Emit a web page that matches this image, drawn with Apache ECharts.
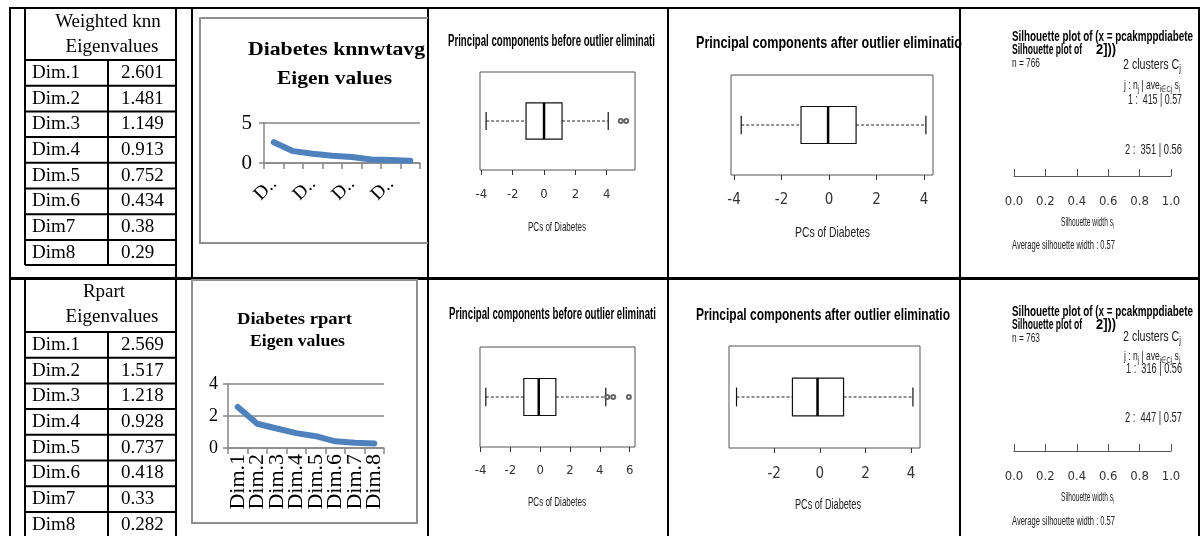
<!DOCTYPE html>
<html><head><meta charset="utf-8">
<script src="https://cdn.jsdelivr.net/npm/echarts@6/dist/echarts.min.js"></script>
<style>html,body{margin:0;padding:0;background:#fff}#c{width:1202px;height:536px}</style>
</head><body><div id="c"></div>
<script>
// ---------------- data ----------------
const dimCats = ['Dim.1','Dim.2','Dim.3','Dim.4','Dim.5','Dim.6','Dim.7','Dim.8'];
const tableRowLabels = ['Dim.1','Dim.2','Dim.3','Dim.4','Dim.5','Dim.6','Dim7','Dim8'];
const knnEigen = [2.601,1.481,1.149,0.913,0.752,0.434,0.38,0.29];
const rpartEigen = [2.569,1.517,1.218,0.928,0.737,0.418,0.33,0.282];
const knnTableTitle = ['Weighted knn','Eigenvalues'];
const rpartTableTitle = ['Rpart','Eigenvalues'];
const knnChartTitle = ['Diabetes knnwtavg','Eigen values'];
const rpartChartTitle = ['Diabetes rpart','Eigen values'];
// boxplot five-number summaries [min, Q1, median, Q3, max]
const boxBeforeKnn = [-3.7,-1.15,0,1.15,4.1];
const outBeforeKnn = [4.9,5.25];
const boxAfterKnn = [-3.7,-1.18,-0.04,1.14,4.08];
const boxBeforeRpart = [-3.65,-1.1,-0.1,1.05,4.4];
const outBeforeRpart = [4.5,4.9,5.95];
const boxAfterRpart = [-3.65,-1.2,-0.1,1.04,4.08];
const ticksBeforeKnn = [-4,-2,0,2,4];
const ticksAfterKnn = [-4,-2,0,2,4];
const ticksBeforeRpart = [-4,-2,0,2,4,6];
const ticksAfterRpart = [-2,0,2,4];
const silN = [766, 763];
const silSizes = [[415,351],[316,447]];
const silAvgs = [[0.57,0.56],[0.56,0.57]];
const silOverall = [0.57, 0.57];
const boxTitleBefore = 'Principal components before outlier eliminati';
const boxTitleAfter = 'Principal components after outlier eliminatio';
const boxXName = 'PCs of Diabetes';

// ---------------- helpers ----------------
const mctx = document.createElement('canvas').getContext('2d');
function mw(t, font){ mctx.font = font; return mctx.measureText(t).width; }
const G = [];
const SANS = '"Liberation Sans", Arial, sans-serif';
const SERIF = '"Liberation Serif", "Times New Roman", serif';
function ln(x1,y1,x2,y2,w,c){ G.push({type:'line', z:100, shape:{x1,y1,x2,y2}, style:{stroke:c||'#000', lineWidth:w||2}}); }
function tx(t, x, y, font, o){
  o = o || {};
  let s = o.scale || 1;
  if (o.target) s = o.target / mw(t, font);
  G.push({type:'text', x, y, scaleX:s, z:50, style:{text:t, font, fill:o.fill||'#000',
    textAlign:o.align||'left', align:o.align||'left', textVerticalAlign:'middle', verticalAlign:'middle'}});
  return s;
}
function pieces(arr, x, y, size, target, fill){
  const fb = size+'px '+SANS, fs = Math.round(size*0.72)+'px '+SANS;
  let tot = 0; arr.forEach(p => tot += mw(p[0], p[1]?fs:fb));
  const s = target / tot; let cx = x;
  arr.forEach(p => { const f = p[1]?fs:fb;
    G.push({type:'text', x:cx, y:y+(p[1]?size*0.32:0), scaleX:s, z:50, style:{text:p[0], font:f, fill:fill||'#222',
      textAlign:'left', align:'left', textVerticalAlign:'middle', verticalAlign:'middle'}});
    cx += mw(p[0], f)*s; });
}

// ---------------- table borders ----------------
ln(10,8,1200,8,2); ln(10,278.5,1200,278.5,3);
ln(10,7,10,536,2); ln(1199,7,1199,536,2);
ln(176,8,176,536,2); ln(192,8,192,278,2);
ln(428,8,428,536,2); ln(668,8,668,536,2); ln(960,8,960,536,2);
// inner table (top)
ln(25,8,25,265,2); ln(25,265,176,265,2); ln(108,60,108,265,2);
for (let i=0;i<8;i++) ln(25,60+i*25.7,176,60+i*25.7,2);
// inner table (bottom)
ln(25,278,25,536,2); ln(108,332,108,536,2);
for (let i=0;i<8;i++) ln(25,332+i*25.7,176,332+i*25.7,2);

const TF = '19px '+SERIF;
tx(knnTableTitle[0],108,22,TF,{align:'center'}); tx(knnTableTitle[1],112,47,TF,{align:'center'});
tx(rpartTableTitle[0],104,292,TF,{align:'center'}); tx(rpartTableTitle[1],112,317,TF,{align:'center'});
tableRowLabels.forEach((d,i) => {
  const y1 = 60+i*25.7+13, y2 = 332+i*25.7+13;
  tx(d,32,y1,TF); tx(String(knnEigen[i]),121,y1,TF);
  tx(d,32,y2,TF); tx(String(rpartEigen[i]),121,y2,TF);
});

// ---------------- excel chart frames & titles ----------------
const GR = '#8e8e8e';
ln(200,18,428,18,2,GR); ln(200,17,200,244,2,GR); ln(200,243,428,243,2,GR);
ln(192,280,417,280,2,GR); ln(192,279,192,524,2,GR); ln(192,523,417,523,2,GR); ln(417,279,417,524,2,GR);
tx(knnChartTitle[0],248,50,'bold 19px '+SERIF,{target:177});
tx(knnChartTitle[1],277,79,'bold 19px '+SERIF,{target:115});
tx(rpartChartTitle[0],237,320,'bold 17px '+SERIF,{target:115});
tx(rpartChartTitle[1],250,342,'bold 17px '+SERIF,{target:95});

// ---------------- R box plot texts ----------------
const RC = '#222';
tx(boxTitleBefore,448,42,'bold 16px '+SANS,{target:207});
tx(boxTitleAfter,696,43,'bold 17px '+SANS,{target:266});
tx(boxTitleBefore,449,315,'bold 16px '+SANS,{target:207});
tx(boxTitleAfter,696,315,'bold 17px '+SANS,{target:254});
tx(boxXName,528,227,'13px '+SANS,{target:58,fill:RC});
tx(boxXName,795,233,'15px '+SANS,{target:75,fill:RC});
tx(boxXName,528,502,'13px '+SANS,{target:58,fill:RC});
tx(boxXName,795,505,'14px '+SANS,{target:66,fill:RC});

// ---------------- silhouette texts ----------------
[0,1].forEach(k => {
  const yy = k===0 ? {t1:37,t2:50,n:63,cl:65,hd:85,c1:100,c2:150,sw:222,av:245}
                   : {t1:312,t2:325,n:338,cl:337,hd:356,c1:369,c2:418,sw:497,av:521};
  tx('Silhouette plot of (x = pcakmppdiabete',1012,yy.t1,'bold 15px '+SANS,{target:181});
  tx('Silhouette plot of',1012,yy.t2,'bold 15px '+SANS,{target:70});
  tx('2]))',1096,yy.t2,'bold 15px '+SANS,{target:20});
  tx('n = '+silN[k],1012,yy.n,'13px '+SANS,{target:28,fill:RC});
  pieces([['2 clusters C',0],['j',1]],1123,yy.cl,14,58);
  pieces([['j : n',0],['j',1],[' | ave',0],['i\u2208Cj',1],[' s',0],['i',1]],1124,yy.hd,13,56);
  tx('1 :  '+silSizes[k][0]+' | '+silAvgs[k][0].toFixed(2),k===0?1128:1126,yy.c1,'14px '+SANS,{target:k===0?54:56,fill:RC});
  tx('2 :  '+silSizes[k][1]+' | '+silAvgs[k][1].toFixed(2),1125,yy.c2,'14px '+SANS,{target:57,fill:RC});
  pieces([['Silhouette width s',0],['i',1]],1061,yy.sw,13,53);
  tx('Average silhouette width : '+silOverall[k].toFixed(2),1012,yy.av,'13px '+SANS,{target:103,fill:RC});
});

// ---------------- echarts option ----------------
const NARROW = '"Liberation Sans Narrow","DejaVu Sans Condensed","Liberation Sans",sans-serif';
function excelX(gi, rot, interval, size, margin, trunc){
  const lab = {interval, rotate:rot, margin, fontFamily:'Liberation Serif', fontSize:size, color:'#000'};
  if (trunc){ lab.formatter = v => v.charAt(0) + '..'; }
  return {gridIndex:gi, type:'category', data:dimCats, boundaryGap:true,
    axisLine:{show:true, lineStyle:{color:'#868686', width:1.5}},
    axisTick:{show:true, interval:0, length:6, lineStyle:{color:'#868686', width:1.5}},
    axisLabel:lab, splitLine:{show:false}};
}
function excelY(gi, max, interval, size, margin){
  return {gridIndex:gi, type:'value', min:0, max, interval,
    axisLine:{show:true, lineStyle:{color:'#868686', width:1.5}},
    axisTick:{show:true, length:5, lineStyle:{color:'#868686', width:1.5}},
    splitLine:{show:true, lineStyle:{color:'#868686', width:1.5}},
    axisLabel:{fontFamily:'Liberation Serif', fontSize:size, color:'#000', margin}};
}
function boxX(gi, min, max, ticks, size, margin){
  return {gridIndex:gi, type:'value', min, max,
    axisLine:{show:false}, splitLine:{show:false},
    axisTick:{show:true, customValues:ticks, length:5, lineStyle:{color:'#333'}},
    axisLabel:{customValues:ticks, margin, fontSize:size, fontFamily:NARROW, color:'#333'}};
}
function boxY(gi){ return {gridIndex:gi, type:'value', min:0.46, max:1.54, show:false}; }
function silX(gi){
  return {gridIndex:gi, type:'value', min:0, max:1, interval:0.2,
    axisLine:{show:true, lineStyle:{color:'#555'}}, splitLine:{show:false},
    axisTick:{show:true, inside:true, length:7, lineStyle:{color:'#555'}},
    axisLabel:{formatter:v=>v.toFixed(1), margin:19, fontSize:13, fontFamily:NARROW, color:'#333'}};
}
function renderBox(params, api){
  const v = [0,1,2,3,4].map(i => api.value(i)); const yc = api.value(5);
  const h = 0.2, cap = 0.1;
  const p = (x,y) => api.coord([x,y]);
  const a = p(v[1], yc+h), b = p(v[3], yc-h);
  const m1 = p(v[2], yc+h), m2 = p(v[2], yc-h);
  const w0 = p(v[0], yc), w1 = p(v[1], yc), w2 = p(v[3], yc), w3 = p(v[4], yc);
  const c0a = p(v[0], yc+cap), c0b = p(v[0], yc-cap), c4a = p(v[4], yc+cap), c4b = p(v[4], yc-cap);
  const solid = {stroke:'#111', lineWidth:1.2, fill:null};
  const dash = {stroke:'#222', lineWidth:1, lineDash:[3,2], fill:null};
  return {type:'group', children:[
    {type:'line', shape:{x1:w0[0],y1:w0[1],x2:w1[0],y2:w1[1]}, style:dash},
    {type:'line', shape:{x1:w2[0],y1:w2[1],x2:w3[0],y2:w3[1]}, style:dash},
    {type:'line', shape:{x1:c0a[0],y1:c0a[1],x2:c0b[0],y2:c0b[1]}, style:solid},
    {type:'line', shape:{x1:c4a[0],y1:c4a[1],x2:c4b[0],y2:c4b[1]}, style:solid},
    {type:'rect', shape:{x:a[0], y:a[1], width:b[0]-a[0], height:b[1]-a[1]}, style:{fill:'#fff', stroke:'#111', lineWidth:1.2}},
    {type:'line', shape:{x1:m1[0],y1:m1[1],x2:m2[0],y2:m2[1]}, style:{stroke:'#000', lineWidth:2.5}}
  ]};
}
const RB = {show:true, borderColor:'#555', borderWidth:1, backgroundColor:'transparent'};
const option = {
  backgroundColor:'#fff', animation:false,
  grid:[
    {left:264, top:123, width:156, height:40, outerBoundsMode:'none'},
    {left:228, top:384, width:156, height:64, outerBoundsMode:'none'},
    Object.assign({left:480, top:72, width:155, height:98, outerBoundsMode:'none'}, RB),
    Object.assign({left:731, top:75, width:202, height:100, outerBoundsMode:'none'}, RB),
    Object.assign({left:480, top:347, width:155, height:100, outerBoundsMode:'none'}, RB),
    Object.assign({left:729, top:346, width:191, height:102, outerBoundsMode:'none'}, RB),
    {left:1014, top:100, width:157, height:76, outerBoundsMode:'none'},
    {left:1014, top:375, width:157, height:76, outerBoundsMode:'none'}
  ],
  xAxis:[
    excelX(0,45,1,19,18,true),
    excelX(1,90,0,22,6,false),
    boxX(2,-4.09,5.81,ticksBeforeKnn,13,18),
    boxX(3,-4.13,4.38,ticksAfterKnn,15,18),
    boxX(4,-4.04,6.36,ticksBeforeRpart,13,17),
    boxX(5,-3.98,4.39,ticksAfterRpart,15,19),
    silX(6), silX(7)
  ],
  yAxis:[
    excelY(0,5,5,21,12),
    excelY(1,4,2,18,10),
    boxY(2), boxY(3), boxY(4), boxY(5),
    {gridIndex:6, type:'value', min:0, max:1, show:false},
    {gridIndex:7, type:'value', min:0, max:1, show:false}
  ],
  series:[
    {type:'line', xAxisIndex:0, yAxisIndex:0, data:knnEigen, symbol:'none', lineStyle:{color:'#4F81BD', width:6, cap:'round'}},
    {type:'line', xAxisIndex:1, yAxisIndex:1, data:rpartEigen, symbol:'none', lineStyle:{color:'#4F81BD', width:6, cap:'round'}},
    {type:'custom', xAxisIndex:2, yAxisIndex:2, data:[boxBeforeKnn.concat([1])], renderItem:renderBox},
    {type:'scatter', xAxisIndex:2, yAxisIndex:2, data:outBeforeKnn.map(v=>[v,1]), symbol:'emptyCircle', symbolSize:4, itemStyle:{color:'#444', borderWidth:1}},
    {type:'custom', xAxisIndex:3, yAxisIndex:3, data:[boxAfterKnn.concat([1])], renderItem:renderBox},
    {type:'custom', xAxisIndex:4, yAxisIndex:4, data:[boxBeforeRpart.concat([1])], renderItem:renderBox},
    {type:'scatter', xAxisIndex:4, yAxisIndex:4, data:outBeforeRpart.map(v=>[v,1]), symbol:'emptyCircle', symbolSize:4, itemStyle:{color:'#444', borderWidth:1}},
    {type:'custom', xAxisIndex:5, yAxisIndex:5, data:[boxAfterRpart.concat([1])], renderItem:renderBox},
    {type:'scatter', xAxisIndex:6, yAxisIndex:6, data:[]},
    {type:'scatter', xAxisIndex:7, yAxisIndex:7, data:[]}
  ],
  graphic:{elements:G}
};
const chart = echarts.init(document.getElementById('c'), null, {renderer:'canvas'});
chart.setOption(option);
</script></body></html>
